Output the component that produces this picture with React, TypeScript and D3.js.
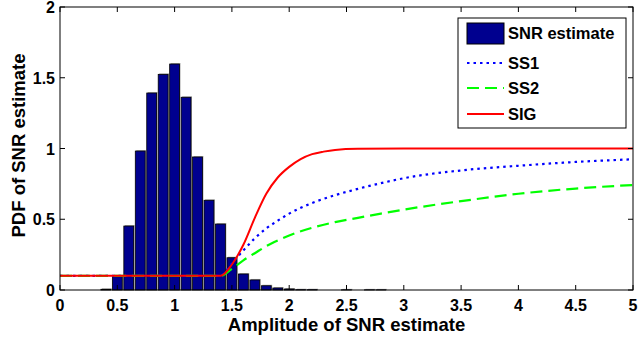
import { useEffect, useRef } from "react"
import * as d3 from "d3"

// histogram of the SNR estimate (bin centres, pdf heights)
const binCenters = [0.4, 0.5, 0.6, 0.7, 0.8, 0.9, 1.0, 1.1, 1.2, 1.3, 1.4, 1.5, 1.6, 1.7, 1.8, 1.9, 2.0, 2.1, 2.2, 2.5, 2.7, 2.8]
const binHeights = [0.005, 0.095, 0.452, 0.982, 1.392, 1.524, 1.597, 1.362, 0.94, 0.634, 0.466, 0.228, 0.113, 0.071, 0.03, 0.014, 0.007, 0.002, 0.002, 0.001, 0.001, 0.001]

// curves
const ss1X = [0, 1.4, 1.5, 1.6, 1.7, 1.8, 1.9, 2.0, 2.2, 2.4, 2.6, 2.8, 3.0, 3.5, 4.0, 4.5, 5.0]
const ss1Y = [0.1, 0.1, 0.19, 0.28, 0.365, 0.435, 0.49, 0.54, 0.615, 0.67, 0.715, 0.755, 0.79, 0.845, 0.878, 0.905, 0.924]

const ss2X = [0, 1.4, 1.5, 1.6, 1.7, 1.8, 1.9, 2.0, 2.2, 2.4, 2.6, 2.8, 3.0, 3.5, 4.0, 4.5, 5.0]
const ss2Y = [0.1, 0.1, 0.15, 0.21, 0.26, 0.31, 0.35, 0.385, 0.44, 0.48, 0.51, 0.54, 0.568, 0.628, 0.68, 0.717, 0.742]

const sigX = [0, 1.4, 1.5, 1.6, 1.7, 1.8, 1.9, 2.0, 2.1, 2.2, 2.3, 2.4, 2.6, 3.0, 4.0, 5.0]
const sigY = [0.1, 0.1, 0.18, 0.32, 0.51, 0.68, 0.795, 0.87, 0.925, 0.96, 0.978, 0.99, 0.998, 1.0, 1.0, 1.0]

const xTicks = [0, 0.5, 1, 1.5, 2, 2.5, 3, 3.5, 4, 4.5, 5]
const yTicks = [0, 0.5, 1, 1.5, 2]

const legendItems = ["SNR estimate", "SS1", "SS2", "SIG"]

export default function App() {
  const ref = useRef<SVGSVGElement | null>(null)

  useEffect(() => {
    const svg = d3.select(ref.current)
    svg.selectAll("*").remove()

    const width = 638
    const height = 340
    const left = 60, right = 633, top = 7, bottom = 290
    const font = "'Liberation Sans', Arial, Helvetica, sans-serif"

    const x = d3.scaleLinear().domain([0, 5]).range([left, right])
    const y = d3.scaleLinear().domain([0, 2]).range([bottom, top])

    svg.attr("width", width).attr("height", height)
    svg.append("rect").attr("width", width).attr("height", height).attr("fill", "#fff")

    // bars
    const bw = (x(0.1) - x(0)) * 0.86
    const bars = binCenters.map((c, i) => ({ c, v: binHeights[i] }))
    const g = svg.append("g")
    g.selectAll("rect.shadow")
      .data(bars)
      .enter()
      .append("rect")
      .attr("x", d => x(d.c) - bw / 2 + 1)
      .attr("y", d => y(d.v) - 1)
      .attr("width", bw)
      .attr("height", d => bottom - y(d.v) + 1)
      .attr("fill", "#aaa")
    g.selectAll("rect.bar")
      .data(bars)
      .enter()
      .append("rect")
      .attr("x", d => x(d.c) - bw / 2)
      .attr("y", d => y(d.v))
      .attr("width", bw)
      .attr("height", d => bottom - y(d.v))
      .attr("fill", "#00008f")
      .attr("stroke", "#000")
      .attr("stroke-width", 0.8)

    const line = d3.line<[number, number]>()
      .x(d => x(d[0]))
      .y(d => y(d[1]))
      .curve(d3.curveMonotoneX)

    const curves = [
      { xs: ss1X, ys: ss1Y, color: "#0000ff", dash: "2.5,4", w: 2.2 },
      { xs: ss2X, ys: ss2Y, color: "#00ff00", dash: "12,6", w: 2.2 },
      { xs: sigX, ys: sigY, color: "#ff0000", dash: null, w: 2 },
    ]
    curves.forEach(cv => {
      svg.append("path")
        .attr("d", line(cv.xs.map((v, i) => [v, cv.ys[i]] as [number, number])))
        .attr("fill", "none")
        .attr("stroke", cv.color)
        .attr("stroke-width", cv.w)
        .attr("stroke-dasharray", cv.dash)
    })

    // axes box and inward ticks
    svg.append("rect")
      .attr("x", left).attr("y", top)
      .attr("width", right - left).attr("height", bottom - top)
      .attr("fill", "none").attr("stroke", "#000").attr("stroke-width", 1)

    const tl = 5
    xTicks.forEach(t => {
      svg.append("line").attr("x1", x(t)).attr("x2", x(t)).attr("y1", bottom).attr("y2", bottom - tl).attr("stroke", "#000")
      svg.append("line").attr("x1", x(t)).attr("x2", x(t)).attr("y1", top).attr("y2", top + tl).attr("stroke", "#000")
      svg.append("text")
        .text(t)
        .attr("x", x(t))
        .attr("y", 311)
        .attr("text-anchor", "middle")
        .attr("font-family", font)
        .attr("font-weight", "bold")
        .attr("font-size", 16)
    })
    yTicks.forEach(t => {
      svg.append("line").attr("x1", left).attr("x2", left + tl).attr("y1", y(t)).attr("y2", y(t)).attr("stroke", "#000")
      svg.append("line").attr("x1", right).attr("x2", right - tl).attr("y1", y(t)).attr("y2", y(t)).attr("stroke", "#000")
      svg.append("text")
        .text(t)
        .attr("x", left - 5)
        .attr("y", y(t) + 6)
        .attr("text-anchor", "end")
        .attr("font-family", font)
        .attr("font-weight", "bold")
        .attr("font-size", 16)
    })

    svg.append("text")
      .text("Amplitude of SNR estimate")
      .attr("x", (left + right) / 2)
      .attr("y", 331)
      .attr("text-anchor", "middle")
      .attr("font-family", font)
      .attr("font-weight", "bold")
      .attr("font-size", 18.5)

    svg.append("text")
      .text("PDF of SNR estimate")
      .attr("transform", `translate(25,${(top + bottom) / 2 - 3}) rotate(-90)`)
      .attr("text-anchor", "middle")
      .attr("font-family", font)
      .attr("font-weight", "bold")
      .attr("font-size", 18.5)

    // legend
    const lg = svg.append("g")
    lg.append("rect")
      .attr("x", 458).attr("y", 18).attr("width", 168).attr("height", 110)
      .attr("fill", "#fff").attr("stroke", "#000").attr("stroke-width", 1)
    const rowY = [33, 63, 88, 114]
    lg.append("rect")
      .attr("x", 467).attr("y", 23).attr("width", 37).attr("height", 21)
      .attr("fill", "#00008f").attr("stroke", "#000")
    curves.forEach((cv, i) => {
      lg.append("line")
        .attr("x1", 467).attr("x2", 504)
        .attr("y1", rowY[i + 1]).attr("y2", rowY[i + 1])
        .attr("stroke", cv.color)
        .attr("stroke-width", cv.w)
        .attr("stroke-dasharray", cv.dash)
    })
    legendItems.forEach((name, i) => {
      lg.append("text")
        .text(name)
        .attr("x", 508)
        .attr("y", rowY[i] + 6)
        .attr("font-family", font)
        .attr("font-weight", "bold")
        .attr("font-size", 16.5)
    })
  }, [])

  return <svg ref={ref} style={{ position: "absolute", left: 0, top: 0 }} />
}
